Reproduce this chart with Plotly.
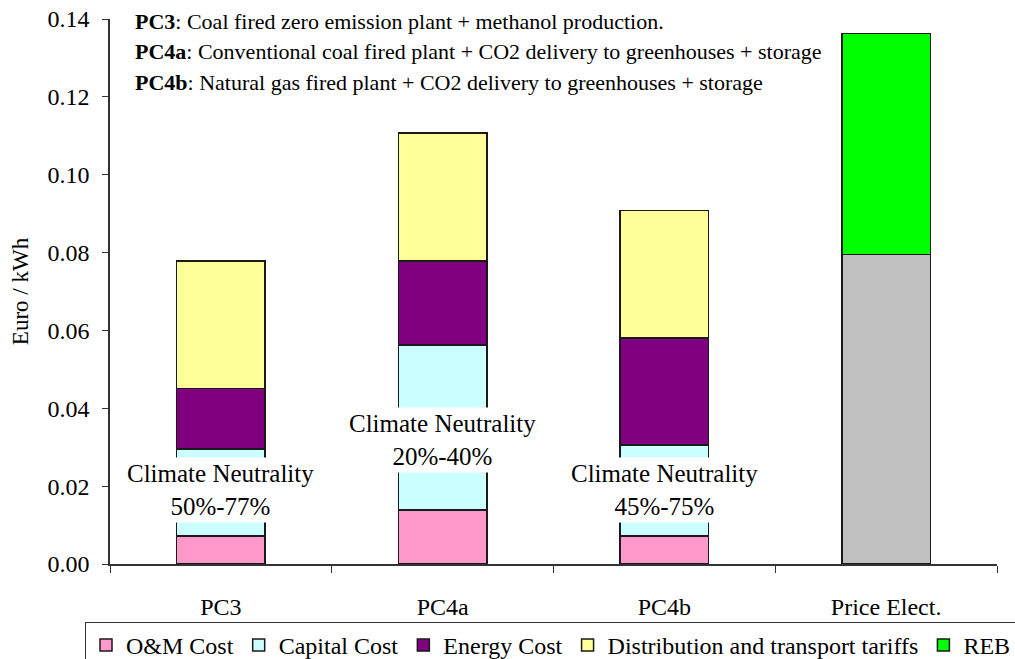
import plotly.graph_objects as go

# Cost breakdown per plant concept (Euro / kWh)
categories = ["PC3", "PC4a", "PC4b", "Price Elect."]
om_cost = [0.0072, 0.0139, 0.0072, None]
capital_cost = [0.0223, 0.0424, 0.0234, None]
energy_cost = [0.0156, 0.0216, 0.0274, None]
distribution_tariffs = [0.0327, 0.0328, 0.0328, None]
price_base = [None, None, None, 0.0795]
reb = [None, None, None, 0.0568]

# Climate-neutrality labels placed over the bars
neutrality_labels = ["50%-77%", "20%-40%", "45%-75%"]
neutrality_y = [0.019, 0.0318, 0.019]

notes = [
    ("PC3", "Coal fired zero emission plant + methanol production."),
    ("PC4a", "Conventional coal fired plant + CO2 delivery to greenhouses + storage"),
    ("PC4b", "Natural gas fired plant + CO2 delivery to greenhouses + storage"),
]

FONT = "Liberation Serif"
EDGE = dict(color="#1a1a1a", width=1.5)

W, H = 1015, 659
L, R, T, B = 110, 18, 19, 95
pw, ph = W - L - R, H - T - B

fig = go.Figure()
series = [
    ("O&M Cost", om_cost, "#FF99CC", True),
    ("Capital Cost", capital_cost, "#CCFFFF", True),
    ("Energy Cost", energy_cost, "#800080", True),
    ("Distribution and transport tariffs", distribution_tariffs, "#FFFF99", True),
    ("Price Elect.", price_base, "#C0C0C0", False),
    ("REB", reb, "#00FF00", True),
]
for name, vals, color, show in series:
    fig.add_trace(go.Bar(
        x=categories, y=vals, name=name, showlegend=show,
        marker=dict(color=color, line=EDGE),
    ))

for cat, lab, yv in zip(categories, neutrality_labels, neutrality_y):
    fig.add_annotation(
        x=cat, y=yv, xref="x", yref="y",
        text="Climate Neutrality<br>" + lab,
        showarrow=False, bgcolor="white", borderpad=2,
        font=dict(family=FONT, size=25, color="black"),
    )

# descriptive notes in the top-left corner (pixel rows -> paper coords)
for i, (code, desc) in enumerate(notes):
    fig.add_annotation(
        x=(133 - L) / pw, y=1 - (21 + 30.5 * i - T) / ph,
        xref="paper", yref="paper",
        text="<b>" + code + "</b>: " + desc,
        showarrow=False, xanchor="left", yanchor="middle",
        font=dict(family=FONT, size=22, color="black"),
    )

fig.update_layout(
    width=W, height=H,
    margin=dict(l=L, r=R, t=T, b=B, autoexpand=False),
    barmode="stack", bargap=0.6,
    plot_bgcolor="white", paper_bgcolor="white",
    font=dict(family=FONT, size=24, color="black"),
    legend=dict(
        orientation="h", x=(85 - L) / pw, xanchor="left",
        y=-(622 - T - ph) / ph, yanchor="top",
        bordercolor="#333", borderwidth=1,
        font=dict(family=FONT, size=24, color="black"),
        traceorder="normal", itemwidth=30,
    ),
    showlegend=True,
)
fig.update_xaxes(
    showline=True, linecolor="#333", linewidth=1.5,
    ticks="outside", tickson="boundaries", ticklen=7, tickcolor="#333",
    ticklabelstandoff=20, showgrid=False,
)
fig.update_yaxes(
    range=[0, 0.14], dtick=0.02, tickformat=".2f",
    showline=True, linecolor="#333", linewidth=1.5,
    ticks="outside", ticklen=6, tickcolor="#333", ticklabelstandoff=8,
    showgrid=False, zeroline=False,
    title=dict(text="Euro / kWh", font=dict(family=FONT, size=23), standoff=12),
)

fig.write_html("out.html")
